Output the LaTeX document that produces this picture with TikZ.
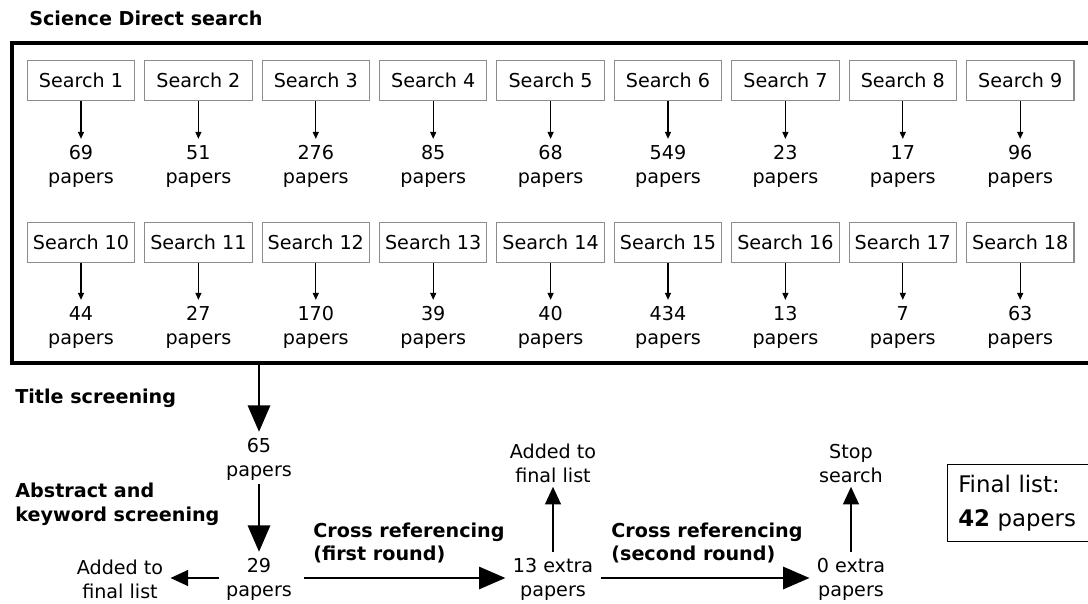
\documentclass[tikz,border=0pt]{standalone}
\usepackage{fontspec}
\setmainfont{DejaVu Sans}
\usetikzlibrary{positioning,arrows.meta}

\tikzset{
  search/.style={draw=black!45, line width=0.6pt, minimum width=61.2pt, minimum height=23.2pt, inner sep=1pt},
  count/.style={align=center, inner xsep=4pt, inner ysep=2pt},
  lbl/.style={font=\bfseries, align=left, anchor=west, inner sep=0pt},
  frame/.style={line width=2.8pt},
  thinarrow/.style={line width=0.6pt, -{Triangle[length=4pt,width=3.5pt]}},
  bigarrow/.style={line width=1.7pt, -{Triangle[length=15pt,width=12.5pt]}},
  smallarrow/.style={line width=1.1pt, -{Triangle[length=10pt,width=9pt]}}
}

\begin{document}
\begin{tikzpicture}[x=0.02cm, y=-0.02cm]
\fontsize{10.9}{13.6}\selectfont
\useasboundingbox (0,0) rectangle (1088,604);

% searches
\node[lbl] (sd) at (29,18) {Science Direct search};
\draw[frame] (12,43) rectangle (1110,363);
\foreach \i/\p in {1/69,2/51,3/276,4/85,5/68,6/549,7/23,8/17,9/96} {
  \node[search] (s\i) at ({81+(\i-1)*117.4},80.5) {Search \i};
  \node[count] (c\i) at ({81+(\i-1)*117.4},165) {\strut\p\\papers};
  \draw[thinarrow] (s\i) -- (c\i);
}
\foreach \i/\p in {10/44,11/27,12/170,13/39,14/40,15/434,16/13,17/7,18/63} {
  \node[search] (s\i) at ({81+(\i-10)*117.4},242.5) {Search \i};
  \node[count] (c\i) at ({81+(\i-10)*117.4},326) {\strut\p\\papers};
  \draw[thinarrow] (s\i) -- (c\i);
}

% screening
\coordinate (out) at (259,365);
\node[lbl] (ts) at (15,398) {Title screening};
\node[count] (p65) at (259,458) {\strut65\\papers};
\node[lbl] (aks) at (15,504) {Abstract and\\keyword screening};
\node[count] (p29) at (259,578) {\strut29\\papers};
\node[count] (add1) at (120,578) {\strut Added to\\final list};
\draw[bigarrow] (out) -- (p65);
\draw[bigarrow] (p65) -- (p29);
\draw[smallarrow] (p29) -- (add1);

% cross referencing
\node[count] (x13) at (553,578) {\strut13 extra\\papers};
\node[count, above=37pt of x13] (add2) {\strut Added to\\final list};
\node[lbl] (cr1) at (313,543) {Cross referencing\\(first round)};
\draw[bigarrow, shorten <=3pt] (p29) -- (x13);
\draw[smallarrow] (x13) -- (add2);

\node[count] (x0) at (851,578) {\strut0 extra\\papers};
\node[count, above=37pt of x0] (stop) {\strut Stop\\search};
\node[lbl] (cr2) at (611,543) {Cross referencing\\(second round)};
\draw[bigarrow] (x13) -- (x0);
\draw[smallarrow] (x0) -- (stop);

% result
\node[draw, line width=0.8pt, anchor=west, align=left, font=\fontsize{13}{19.5}\selectfont,
  minimum height=44pt, text width=90pt, inner xsep=6pt] (final) at (947,503) {Final list:\\\textbf{42} papers};
\end{tikzpicture}
\end{document}
